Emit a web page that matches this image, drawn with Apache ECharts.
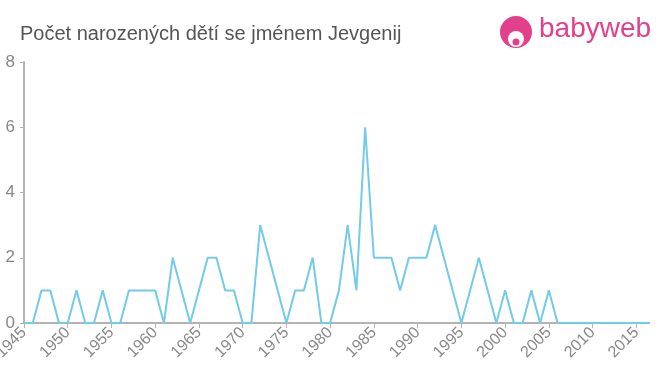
<!DOCTYPE html>
<html>
<head>
<meta charset="utf-8">
<script src="https://cdn.jsdelivr.net/npm/echarts@6/dist/echarts.min.js"></script>
<style>html,body{margin:0;padding:0;background:#fff}#c{width:660px;height:375px}</style>
</head>
<body>
<div id="c"></div>
<script>
const titleText = 'Počet narozených dětí se jménem Jevgenij';
const years = [1945,1946,1947,1948,1949,1950,1951,1952,1953,1954,1955,1956,1957,1958,1959,1960,1961,1962,1963,1964,1965,1966,1967,1968,1969,1970,1971,1972,1973,1974,1975,1976,1977,1978,1979,1980,1981,1982,1983,1984,1985,1986,1987,1988,1989,1990,1991,1992,1993,1994,1995,1996,1997,1998,1999,2000,2001,2002,2003,2004,2005,2006,2007,2008,2009,2010,2011,2012,2013,2014,2015,2016,2017];
const counts = [0,0,1,1,0,0,1,0,0,1,0,0,1,1,1,1,0,2,1,0,1,2,2,1,1,0,0,3,2,1,0,1,1,2,0,0,1,3,1,6,2,2,2,1,2,2,2,3,2,1,0,1,2,1,0,1,0,0,1,0,1,0,0,0,0,0,0,0,0,0,0,0,0];
const xTicks = [1945,1950,1955,1960,1965,1970,1975,1980,1985,1990,1995,2000,2005,2010,2015];
const yTicks = [0,2,4,6,8];

const chart = echarts.init(document.getElementById('c'), null, {renderer:'canvas'});
chart.setOption({
  animation:false,
  backgroundColor:'#fff',
  title:{text:titleText,left:15,top:19,textStyle:{fontFamily:'Liberation Sans, Arial, sans-serif',fontSize:20,fontWeight:'normal',color:'#555'}},
  graphic:[
    {type:'circle',shape:{cx:516,cy:32,r:16},style:{fill:'#e2408a'}},
    {type:'circle',shape:{cx:516,cy:39,r:8},style:{fill:'#fff'}},
    {type:'circle',shape:{cx:516,cy:42,r:3.5},style:{fill:'#e2408a'}},
    {type:'text',left:539,top:15,style:{text:'babyweb',fontFamily:'Liberation Sans, Arial, sans-serif',fontSize:28,fill:'#e2408a'}}
  ],
  grid:{left:24,right:11,top:62,bottom:52,outerBoundsMode:'none',containLabel:false},
  xAxis:{
    type:'value',min:1945,max:2016.45,
    splitLine:{show:false},
    axisLine:{lineStyle:{color:'#b3b3b3',width:2}},
    axisTick:{customValues:xTicks,length:5,lineStyle:{color:'#b3b3b3',width:1}},
    axisLabel:{customValues:xTicks,rotate:45,color:'#888',fontSize:16,fontFamily:'Liberation Sans, Arial, sans-serif',margin:7,formatter:v=>String(v)}
  },
  yAxis:{
    type:'value',min:0,max:8,interval:2,
    splitLine:{show:false},
    axisLine:{show:true,lineStyle:{color:'#b3b3b3',width:2}},
    axisTick:{show:true,length:4,lineStyle:{color:'#b3b3b3'}},
    axisLabel:{customValues:yTicks,color:'#888',fontSize:17,fontFamily:'Liberation Sans, Arial, sans-serif',margin:9}
  },
  series:[{
    type:'line',
    data:years.map((y,i)=>[y,counts[i]]),
    showSymbol:false,
    clip:true,
    lineStyle:{color:'#74cbe8',width:2},
    itemStyle:{color:'#74cbe8'}
  }]
});
</script>
</body>
</html>
